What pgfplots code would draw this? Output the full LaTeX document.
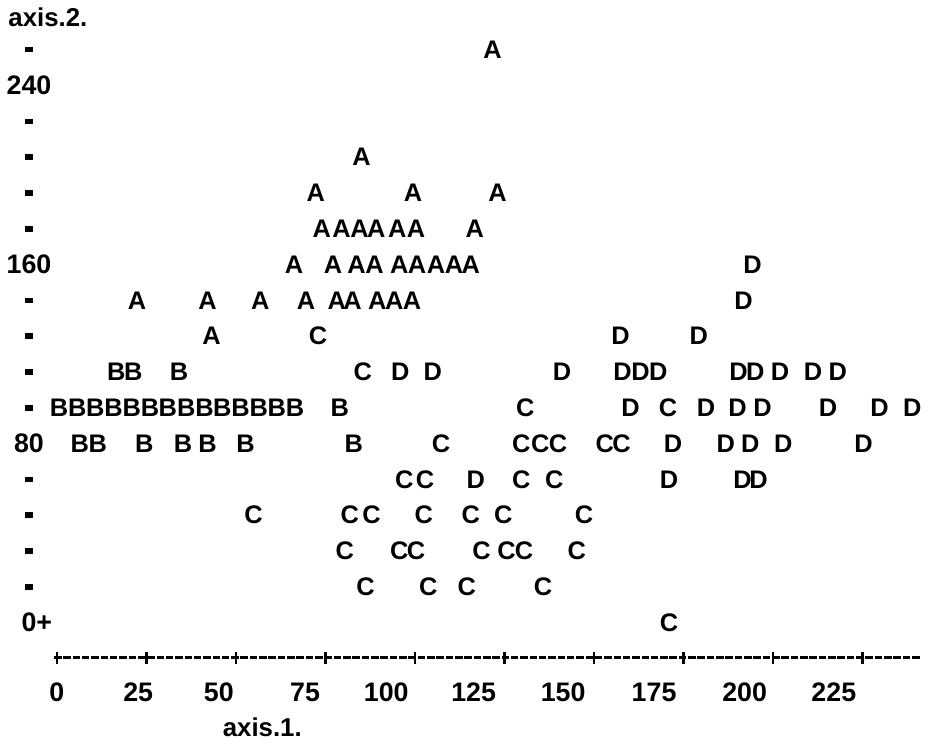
\documentclass[border=0pt]{standalone}
\usepackage{pgfplots}
\pgfplotsset{compat=1.18}
\usepackage{fontspec}
\setmainfont{Liberation Sans}
\newcommand\letterfont{\bfseries\fontsize{12.8}{13}\selectfont}
\newcommand\tickfont{\bfseries\fontsize{13.5}{14}\selectfont}
\newcommand\labfont{\bfseries\fontsize{13}{14}\selectfont}
\newcommand\ydash{\rule{3.6pt}{2.8pt}}
\pgfplotsset{letter/.style={draw=none, mark=none, nodes near coords={#1},
  nodes near coords align={center},
  every node near coord/.style={anchor=center, inner sep=0pt, font=\letterfont, black}}}
\begin{document}
\begin{tikzpicture}
\begin{axis}[
  scale only axis, width=436.5pt, height=331.5pt,
  xmin=-0.83, xmax=241.1, ymin=-15.7, ymax=278.2,
  clip=false,
  axis x line*=bottom, axis y line*=left,
  x axis line style={-, line width=1.4pt, dash pattern=on 3.8pt off 0.9pt},
  y axis line style={draw=none},
  xtick={0,25,...,225}, xticklabels={,,,,,,,,,},
  xtick style={line width=1.3pt, black},
  tick align=center, major tick length=6pt,
  extra x ticks={0,22.7,45.2,69.3,92.0,116.4,141.4,166.8,192.1,217.0},
  extra x tick labels={0,25,50,75,100,125,150,175,200,225},
  extra x tick style={major tick length=0pt},
  ytick={0,16,...,256},
  yticklabels={0\rlap{+},\ydash,\ydash,\ydash,\ydash,80,\ydash,\ydash,\ydash,\ydash,160,\ydash,\ydash,\ydash,\ydash,240,\ydash},
  ytick style={draw=none},
  ticklabel style={font=\tickfont},
  xticklabel style={anchor=center, yshift=-17.5pt},
  yticklabel style={anchor=center, xshift=-9.6pt},
  xlabel={axis.1.}, ylabel={axis.2.},
  label style={font=\labfont},
  xlabel style={at={(axis description cs:0.2405,-0.1056)}, anchor=center},
  ylabel style={at={(axis description cs:-0.0070,0.9744)}, anchor=center, rotate=-90},
]
\path (axis description cs:-0.05384,-0.12368) rectangle (axis description cs:1.0126,1);
% Series A
\addplot[letter=A] coordinates {
 (121.7,256)
 (85.1,208)
 (72.3,192) (99.5,192) (123.1,192)
 (74.0,176) (79.5,176) (84.5,176) (89.2,176) (95.1,176) (100.3,176) (116.7,176)
 (66.2,160) (77.1,160) (83.7,160) (88.7,160) (95.6,160) (100.6,160) (105.9,160) (110.9,160) (115.6,160)
 (22.4,144) (42.1,144) (56.8,144) (69.6,144) (78.2,144) (82.6,144) (89.5,144) (94.2,144) (99.2,144)
 (43.2,128)
};
% Series B
\addplot[letter=B] coordinates {
 (16.6,112) (21.3,112) (34.1,112)
 (0.6,96) (5.7,96) (10.7,96) (15.8,96) (20.9,96) (26.0,96) (31.0,96) (36.1,96) (41.2,96) (46.2,96) (51.3,96) (56.4,96) (61.4,96) (66.5,96) (79.0,96)
 (6.4,80) (11.4,80) (24.4,80) (35.2,80) (42.1,80) (52.7,80) (82.9,80)
};
% Series C
\addplot[letter=C] coordinates {
 (72.9,128)
 (85.4,112)
 (130.8,96) (170.7,96)
 (107.3,80) (129.7,80) (135.0,80) (140.0,80) (153.0,80) (157.7,80)
 (97.0,64) (102.8,64) (129.7,64) (138.9,64)
 (54.9,48) (81.8,48) (87.9,48) (102.5,48) (115.6,48) (124.7,48) (147.2,48)
 (80.4,32) (95.6,32) (100.3,32) (118.6,32) (125.6,32) (130.5,32) (145.2,32)
 (86.2,16) (103.7,16) (114.5,16) (135.8,16)
 (171.0,0)
};
% Series D
\addplot[letter=D] coordinates {
 (194.3,160)
 (191.8,144)
 (157.4,128) (179.3,128)
 (95.9,112) (105.0,112) (141.1,112) (158.0,112) (163.0,112) (168.0,112) (190.4,112) (195.1,112) (202.0,112) (211.2,112) (218.1,112)
 (160.2,96) (181.3,96) (190.1,96) (197.1,96) (215.4,96) (229.8,96) (238.9,96)
 (172.1,80) (186.8,80) (193.7,80) (202.9,80) (225.3,80)
 (117.0,64) (171.0,64) (191.5,64) (196.0,64)
};
\end{axis}
\end{tikzpicture}
\end{document}
